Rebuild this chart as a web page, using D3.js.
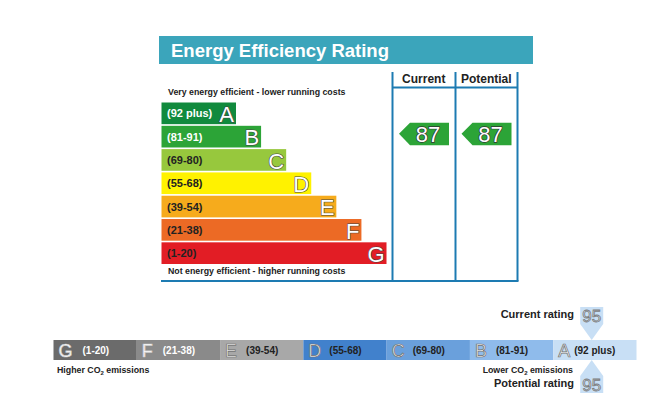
<!DOCTYPE html>
<html>
<head>
<meta charset="utf-8">
<script src="https://cdn.jsdelivr.net/npm/d3@7"></script>
<style>
	body { margin: 0; background: #fff; }
	text { font-family: 'Liberation Sans', Arial, sans-serif; }
</style>
</head>
<body>
<div id="chart"></div>
<script>
// DATA
var bands = [ 'A', 'B', 'C', 'D', 'E', 'F', 'G' ];
var bandRanges = [ '(92 plus)', '(81-91)', '(69-80)', '(55-68)', '(39-54)', '(21-38)', '(1-20)' ];
var bandColors = [ '#118a3d', '#2ca437', '#97c83d', '#fff200', '#f6ab1c', '#ec6a25', '#e21d25' ];
var rangeTextColors = [ '#fff', '#fff', '#222', '#222', '#222', '#222', '#222' ];
var bandMins = [ 92, 81, 69, 55, 39, 21, 1 ];
var columns = [ 'Current', 'Potential' ];
var ratings = [ 87, 87 ];

var co2Bands = [ 'G', 'F', 'E', 'D', 'C', 'B', 'A' ];
var co2Ranges = [ '(1-20)', '(21-38)', '(39-54)', '(55-68)', '(69-80)', '(81-91)', '(92 plus)' ];
var co2Colors = [ '#6b6b6b', '#8a8a8a', '#a8a8a8', '#4181cc', '#6aa0dc', '#8fbbeb', '#c8dff5' ];
var co2TextColors = [ '#fff', '#fff', '#222', '#222', '#222', '#222', '#222' ];
var co2Current = 95;
var co2Potential = 95;

var svg = d3.select( '#chart' ).append( 'svg' )
	.attr( 'width', 672 )
	.attr( 'height', 420 );

function bandOf( rating ) {
	for ( var i = 0; i < bandMins.length; i++ ) {
		if ( rating >= bandMins[ i ] ) return bands[ i ];
	}
	return 'G';
}

// HEADER
svg.append( 'rect' )
	.attr( 'x', 159 ).attr( 'y', 36 )
	.attr( 'width', 374 ).attr( 'height', 28 )
	.style( 'fill', '#3ba5bb' );

svg.append( 'text' )
	.attr( 'x', 171 ).attr( 'y', 57 )
	.text( 'Energy Efficiency Rating' )
	.attr( 'font-size', '18.5px' )
	.attr( 'font-weight', 'bold' )
	.attr( 'fill', '#fff' );

// ROWS
var yScale = d3.scaleBand()
	.domain( bands )
	.range( [ 102.5, 264 ] )
	.paddingInner( 0.07 );

var endScale = d3.scaleLinear()
	.domain( [ 0, bands.length - 1 ] )
	.range( [ 236, 386.5 ] );

var barStart = 161.5;

svg.selectAll( '.band' )
	.data( bands )
	.enter()
	.append( 'rect' )
	.attr( 'class', 'band' )
	.attr( 'x', barStart )
	.attr( 'y', function( d ) { return yScale( d ); } )
	.attr( 'width', function( d, i ) { return endScale( i ) - barStart; } )
	.attr( 'height', yScale.bandwidth() )
	.style( 'fill', function( d, i ) { return bandColors[ i ]; } );

svg.selectAll( '.band-range' )
	.data( bands )
	.enter()
	.append( 'text' )
	.attr( 'class', 'band-range' )
	.attr( 'x', 167 )
	.attr( 'y', function( d ) { return yScale( d ) + yScale.bandwidth() / 2 + 4 ; } )
	.text( function( d, i ) { return bandRanges[ i ]; } )
	.attr( 'font-size', '11px' )
	.attr( 'font-weight', 'bold' )
	.attr( 'fill', function( d, i ) { return rangeTextColors[ i ]; } );

svg.selectAll( '.band-letter' )
	.data( bands )
	.enter()
	.append( 'text' )
	.attr( 'class', 'band-letter' )
	.attr( 'x', function( d, i ) { return endScale( i ) - 2; } )
	.attr( 'y', function( d ) { return yScale( d ) + yScale.bandwidth() - 2; } )
	.attr( 'text-anchor', 'end' )
	.text( function( d ) { return d; } )
	.attr( 'font-size', '22px' )
	.attr( 'fill', '#fff' )
	.attr( 'stroke', '#444' )
	.attr( 'stroke-width', 1.2 )
	.attr( 'paint-order', 'stroke' );

svg.append( 'text' )
	.attr( 'x', 168 ).attr( 'y', 95 )
	.text( 'Very energy efficient - lower running costs' )
	.attr( 'font-size', '8.8px' )
	.attr( 'font-weight', 'bold' )
	.attr( 'fill', '#222' );

svg.append( 'text' )
	.attr( 'x', 168 ).attr( 'y', 274 )
	.text( 'Not energy efficient - higher running costs' )
	.attr( 'font-size', '8.8px' )
	.attr( 'font-weight', 'bold' )
	.attr( 'fill', '#222' );

// RATING COLUMNS
var colScale = d3.scaleBand()
	.domain( columns )
	.range( [ 392.5, 517.5 ] );

var lineColor = '#1d7bb2';
var colLines = [ 392.5, 455.5, 517.5 ];

svg.selectAll( '.col-line' )
	.data( colLines )
	.enter()
	.append( 'line' )
	.attr( 'class', 'col-line' )
	.attr( 'x1', function( d ) { return d; } )
	.attr( 'x2', function( d ) { return d; } )
	.attr( 'y1', 72 )
	.attr( 'y2', 281 )
	.style( 'stroke', lineColor )
	.style( 'stroke-width', 2 );

svg.append( 'line' )
	.attr( 'x1', 392.5 ).attr( 'x2', 517.5 )
	.attr( 'y1', 87.5 ).attr( 'y2', 87.5 )
	.style( 'stroke', lineColor )
	.style( 'stroke-width', 2 );

svg.append( 'line' )
	.attr( 'x1', 161 ).attr( 'x2', 518.5 )
	.attr( 'y1', 281 ).attr( 'y2', 281 )
	.style( 'stroke', lineColor )
	.style( 'stroke-width', 2 );

svg.selectAll( '.col-title' )
	.data( columns )
	.enter()
	.append( 'text' )
	.attr( 'class', 'col-title' )
	.attr( 'x', function( d ) { return colScale( d ) + colScale.bandwidth() / 2; } )
	.attr( 'y', 83 )
	.attr( 'text-anchor', 'middle' )
	.text( function( d ) { return d; } )
	.attr( 'font-size', '12px' )
	.attr( 'font-weight', 'bold' )
	.attr( 'fill', '#222' );

// RATING ARROWS
var arrows = svg.selectAll( '.arrow' )
	.data( columns )
	.enter()
	.append( 'g' )
	.attr( 'class', 'arrow' )
	.attr( 'transform', function( d, i ) {
		var y = yScale( bandOf( ratings[ i ] ) ) - 3;
		return 'translate(' + ( colScale( d ) + 6.5 ) + ',' + y + ')';
	} );

arrows.append( 'path' )
	.attr( 'd', 'M0,11 L11,0 L50,0 L50,22.5 L11,22.5 Z' )
	.style( 'fill', function( d, i ) {
		return bandColors[ bands.indexOf( bandOf( ratings[ i ] ) ) ];
	} );

arrows.append( 'text' )
	.attr( 'x', 29 )
	.attr( 'y', 19.5 )
	.attr( 'text-anchor', 'middle' )
	.text( function( d, i ) { return ratings[ i ]; } )
	.attr( 'font-size', '22px' )
	.attr( 'fill', '#fff' )
	.attr( 'stroke', '#333' )
	.attr( 'stroke-width', 1.4 )
	.attr( 'paint-order', 'stroke' );

// CO2 BAR
var xScale = d3.scaleBand()
	.domain( co2Bands )
	.range( [ 53.5, 636.5 ] );

var barTop = 340;
var barH = 20;

svg.selectAll( '.co2' )
	.data( co2Bands )
	.enter()
	.append( 'rect' )
	.attr( 'class', 'co2' )
	.attr( 'x', function( d ) { return xScale( d ); } )
	.attr( 'y', barTop )
	.attr( 'width', xScale.bandwidth() )
	.attr( 'height', barH )
	.style( 'fill', function( d, i ) { return co2Colors[ i ]; } );

svg.selectAll( '.co2-letter' )
	.data( co2Bands )
	.enter()
	.append( 'text' )
	.attr( 'class', 'co2-letter' )
	.attr( 'x', function( d ) { return xScale( d ) + 5; } )
	.attr( 'y', barTop + 16.5 )
	.text( function( d ) { return d; } )
	.attr( 'font-size', '18px' )
	.attr( 'fill', function( d, i ) { return i < 2 ? '#fff' : '#eeeeee'; } )
	.attr( 'stroke', function( d, i ) { return i < 2 ? '#ccc' : '#707070'; } )
	.attr( 'stroke-width', 0.7 );

svg.selectAll( '.co2-range' )
	.data( co2Bands )
	.enter()
	.append( 'text' )
	.attr( 'class', 'co2-range' )
	.attr( 'x', function( d, i ) { return xScale( d ) + ( i === 0 ? 29 : i === 6 ? 21 : 26 ); } )
	.attr( 'y', barTop + 14 )
	.text( function( d, i ) { return co2Ranges[ i ]; } )
	.attr( 'font-size', '10px' )
	.attr( 'font-weight', 'bold' )
	.attr( 'fill', function( d, i ) { return co2TextColors[ i ]; } );

svg.append( 'text' )
	.attr( 'x', 57 ).attr( 'y', 373 )
	.attr( 'font-size', '8.8px' )
	.attr( 'font-weight', 'bold' )
	.attr( 'fill', '#222' )
	.html( 'Higher CO<tspan font-size="6px" dy="2">2</tspan><tspan dy="-2"> emissions</tspan>' );

svg.append( 'text' )
	.attr( 'x', 573 ).attr( 'y', 372.5 )
	.attr( 'text-anchor', 'end' )
	.attr( 'font-size', '8.8px' )
	.attr( 'font-weight', 'bold' )
	.attr( 'fill', '#222' )
	.html( 'Lower CO<tspan font-size="6px" dy="2">2</tspan><tspan dy="-2"> emissions</tspan>' );

// CO2 MARKERS
var markerFill = co2Colors[ co2Colors.length - 1 ];
var curX = xScale( bandOf( co2Current ) ) + 38.5;
var potX = xScale( bandOf( co2Potential ) ) + 38.5;

svg.append( 'path' )
	.attr( 'd', 'M' + ( curX - 11.5 ) + ',307 L' + ( curX + 11.5 ) + ',307 L' + ( curX + 11.5 ) + ',324 L' + curX + ',' + barTop + ' L' + ( curX - 11.5 ) + ',324 Z' )
	.style( 'fill', markerFill );

svg.append( 'path' )
	.attr( 'd', 'M' + potX + ',' + ( barTop + barH ) + ' L' + ( potX + 11.5 ) + ',376 L' + ( potX + 11.5 ) + ',393 L' + ( potX - 11.5 ) + ',393 L' + ( potX - 11.5 ) + ',376 Z' )
	.style( 'fill', markerFill );

svg.append( 'text' )
	.attr( 'x', curX ).attr( 'y', 322 )
	.attr( 'text-anchor', 'middle' )
	.text( co2Current )
	.attr( 'font-size', '17px' )
	.attr( 'fill', '#d6e5f5' )
	.attr( 'stroke', '#7a7a7a' )
	.attr( 'stroke-width', 0.8 );

svg.append( 'text' )
	.attr( 'x', potX ).attr( 'y', 391 )
	.attr( 'text-anchor', 'middle' )
	.text( co2Potential )
	.attr( 'font-size', '17px' )
	.attr( 'fill', '#d6e5f5' )
	.attr( 'stroke', '#7a7a7a' )
	.attr( 'stroke-width', 0.8 );

svg.append( 'text' )
	.attr( 'x', 574 ).attr( 'y', 318 )
	.attr( 'text-anchor', 'end' )
	.text( 'Current rating' )
	.attr( 'font-size', '11px' )
	.attr( 'font-weight', 'bold' )
	.attr( 'fill', '#222' );

svg.append( 'text' )
	.attr( 'x', 574 ).attr( 'y', 387 )
	.attr( 'text-anchor', 'end' )
	.text( 'Potential rating' )
	.attr( 'font-size', '11px' )
	.attr( 'font-weight', 'bold' )
	.attr( 'fill', '#222' );
</script>
</body>
</html>
